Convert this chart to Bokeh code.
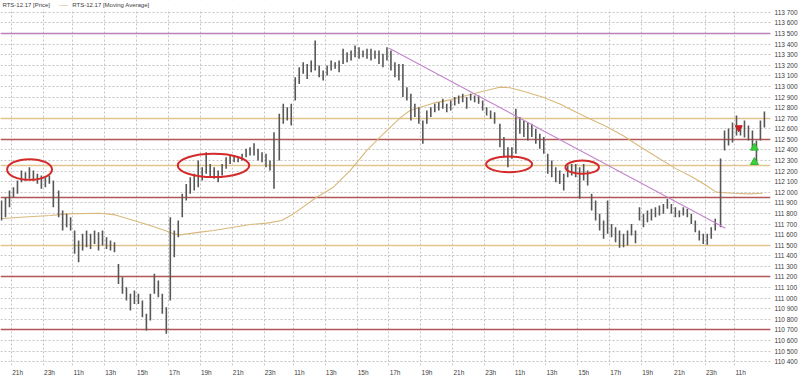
from bokeh.plotting import figure
from bokeh.models import Range1d, FixedTicker, Label, BoxAnnotation
from bokeh.embed import file_html
from bokeh.resources import INLINE

# ---------------- time structure (trading minutes, overnight gaps removed) ----------------
SESSION_OPEN = 10 * 60      # 10:00
SESSION_LEN = 830           # 10:00 - 23:50
EVENING_REF = 21 * 60       # x = 0 at 21:00 of the first (evening) session
EVENING_LEN = 170           # 21:00 - 23:50
BAR_MIN = 15                # 15-minute bars


def t_of(k, hh, mm=0):
    """trading-minute coordinate of clock time hh:mm in session k (0 = first evening)."""
    if k == 0:
        return hh * 60 + mm - EVENING_REF
    return EVENING_LEN + (k - 1) * SESSION_LEN + hh * 60 + mm - SESSION_OPEN


# ---------------- price bars (high / low of each 15-min bar) ----------------
s0_start = (20, 15)
s0_hi = [111922, 111953, 112016, 112048, 112111, 112205, 112190, 112237, 112205, 112174,
         112158, 112142, 112158, 112111]
s0_lo = [111733, 111764, 111859, 111953, 111985, 112095, 112111, 112127, 112111, 112080,
         112032, 112048, 112080, 111859]

s1_hi = [112016, 111827, 111796, 111764, 111638, 111544, 111607, 111638, 111607, 111638,
         111623, 111638, 111575, 111544, 111528, 111323, 111197, 111103, 111040, 111071,
         111040, 110977, 110851, 111040, 111229, 111166, 111040, 110914, 111764, 111638,
         111733, 111985, 112079, 112142, 112174, 112300, 112237, 112379, 112268, 112237,
         112205, 112268, 112331, 112347, 112347, 112331, 112363, 112410, 112426, 112464,
         112410, 112379, 112363, 112300, 112568]
s1_lo = [111764, 111638, 111670, 111638, 111418, 111339, 111450, 111481, 111465, 111512,
         111450, 111497, 111465, 111450, 111434, 111134, 111040, 110977, 110882, 110945,
         110945, 110819, 110693, 110788, 111040, 111008, 110851, 110662, 110977, 111386,
         111575, 111764, 111922, 111985, 112016, 112048, 112111, 112174, 112142, 112127,
         112095, 112158, 112221, 112268, 112284, 112284, 112300, 112331, 112347, 112347,
         112300, 112284, 112237, 112205, 112032]

s2_hi = [112742, 112836, 112804, 112836, 113087, 113182, 113229, 113213, 113245, 113434,
         113198, 113150, 113198, 113245, 113229, 113245, 113355, 113324, 113339, 113387,
         113371, 113339, 113355, 113355, 113339, 113339, 113308, 113371, 113339, 113229,
         113213, 113213, 112993, 112930, 112836, 112804, 112678, 112773, 112804, 112836,
         112851, 112883, 112836, 112867, 112899, 112914, 112930, 112899, 112930, 112914,
         112914, 112867, 112804, 112773, 112757]
s2_lo = [112300, 112647, 112678, 112631, 112867, 113024, 113119, 113071, 113135, 113150,
         113087, 113056, 113103, 113150, 113166, 113135, 113213, 113229, 113245, 113276,
         113261, 113276, 113261, 113245, 113261, 113213, 113182, 113245, 113150, 113087,
         113056, 112899, 112867, 112678, 112710, 112647, 112458, 112647, 112710, 112757,
         112773, 112788, 112757, 112773, 112820, 112836, 112851, 112788, 112867, 112851,
         112836, 112773, 112725, 112694, 112647]

s3_hi = [112647, 112521, 112426, 112426, 112788, 112710, 112678, 112662, 112647, 112599,
         112552, 112521, 112363, 112300, 112237, 112205, 112174, 112253, 112268, 112268,
         112237, 112268, 112205, 111985, 111922, 111796, 111733, 111922, 111701, 111670,
         111638, 111607, 111638, 111701, 111638, 111859, 111796, 111827, 111843, 111859,
         111875, 111890, 111938, 111890, 111859, 111827, 111859, 111843, 111796, 111733,
         111638, 111607, 111607, 111670, 111749]
s3_lo = [112426, 112332, 112237, 112316, 112363, 112552, 112521, 112489, 112521, 112458,
         112410, 112363, 112174, 112142, 112095, 112079, 112016, 112142, 112158, 112142,
         111938, 112111, 112064, 111827, 111733, 111638, 111560, 111607, 111575, 111528,
         111475, 111481, 111497, 111591, 111519, 111733, 111670, 111717, 111733, 111764,
         111780, 111796, 111843, 111796, 111764, 111764, 111780, 111764, 111701, 111623,
         111544, 111512, 111505, 111560, 111638]

s4_hi = [112320, 112583, 112602, 112659, 112725, 112631, 112678, 112631, 112583, 112489,
         112678, 112763]
s4_lo = [111670, 112394, 112442, 112470, 112536, 112536, 112517, 112489, 112394, 112281,
         112489, 112612]

# ---------------- moving average ----------------
ma_t = [-41, 34, 147, 209, 334, 391, 460, 522, 585, 610, 635, 710, 760, 835, 898, 961,
        1017, 1061, 1148, 1211, 1274, 1336, 1399, 1462, 1499, 1537, 1587, 1649, 1712, 1774,
        1837, 1875, 1925, 2000, 2063, 2125, 2175, 2238, 2300, 2364, 2438, 2501, 2563, 2614,
        2651, 2714, 2776, 2826]
ma_v = [111749, 111764, 111780, 111796, 111802, 111786, 111733, 111686, 111632, 111607,
        111597, 111623, 111638, 111670, 111695, 111708, 111733, 111796, 111953, 112048,
        112205, 112394, 112552, 112703, 112772, 112804, 112842, 112873, 112914, 112955,
        112993, 112987, 112955, 112898, 112835, 112757, 112694, 112621, 112536, 112432,
        112316, 112221, 112142, 112064, 112001, 111991, 111985, 111991]

# ---------------- drawn levels / annotations ----------------
levels = [113500, 112700, 112500, 112255, 111950, 111500, 111200, 110700]
level_kind = ["violet", "tan", "red", "tan", "red", "tan", "red", "red"]

trend_t = [1421, 2686]
trend_v = [113361, 111660]

ell_t = [68, 760, 1872, 2147]
ell_v = [112215, 112253, 112264, 112237]
ell_w = [169, 269, 173, 126]
ell_h = [196, 220, 148, 126]

sell_t = [2736]
sell_v = [112609]
buy_t = [2795, 2795]
buy_v = [112420, 112284]

# ---------------- axis ticks / legend ----------------
tick_hours = [[21, 23], [11, 13, 15, 17, 19, 21, 23], [11, 13, 15, 17, 19, 21, 23],
              [11, 13, 15, 17, 19, 21, 23], [11]]
price_ticks = list(range(110400, 113701, 100))
series_names = ["RTS-12.17 [Price]", "RTS-12.17 [Moving Average]"]

# ---------------- styles ----------------
COL = {"violet": "#bd80bd", "tan": "#e2c48e", "red": "#b25656"}
FONT = "Liberation Sans"
TXT = "#3c3c3c"
MA_COLOR = "#d9b97c"
PLOT_TOP = 113727     # top of the price area; the strip above it holds the legend
Y_TOP = 113812

bar_x, bar_hi, bar_lo = [], [], []
for k, (start, H, L) in enumerate([(s0_start, s0_hi, s0_lo), ((10, 0), s1_hi, s1_lo),
                                   ((10, 0), s2_hi, s2_lo), ((10, 0), s3_hi, s3_lo),
                                   ((10, 0), s4_hi, s4_lo)]):
    t0 = t_of(k, *start)
    for i, (h, l) in enumerate(zip(H, L)):
        bar_x.append(t0 + BAR_MIN * i + BAR_MIN / 2)
        bar_hi.append(h)
        bar_lo.append(l)

grid_pos = [t_of(k, h) for k, hs in enumerate(tick_hours) for h in hs]
grid_lab = [f"{h}h" for hs in tick_hours for h in hs]
LABEL_SHIFT = 23
lab_pos = [g + LABEL_SHIFT for g in grid_pos]

p = figure(width=800, height=378, output_backend="svg", toolbar_location=None,
           x_range=Range1d(-41.3, 2855.4), y_range=Range1d(110363, Y_TOP),
           y_axis_location="right", min_border_left=0, min_border_right=29,
           min_border_top=0, min_border_bottom=13)
p.outline_line_color = None
p.background_fill_color = "white"
p.border_fill_color = "white"

# axes
p.xaxis.ticker = FixedTicker(ticks=lab_pos)
p.xaxis.major_label_overrides = {pos: lab for pos, lab in zip(lab_pos, grid_lab)}
p.yaxis.ticker = FixedTicker(ticks=price_ticks)
p.yaxis.major_label_overrides = {v: f"{v // 1000} {v % 1000:03d}" for v in price_ticks}
for ax in (p.xaxis[0], p.yaxis[0]):
    ax.axis_line_color = None
    ax.major_tick_line_color = None
    ax.minor_tick_line_color = None
    ax.major_tick_out = 0
    ax.major_tick_in = 0
    ax.minor_tick_out = 0
    ax.minor_tick_in = 0
    ax.major_label_text_font = FONT
    ax.major_label_text_font_size = "6.5px"
    ax.major_label_text_color = TXT
p.xaxis.major_label_standoff = 3
p.yaxis.major_label_standoff = 4

# grid
p.xgrid.ticker = FixedTicker(ticks=grid_pos)
for g in (p.xgrid[0], p.ygrid[0]):
    g.grid_line_color = "#c4c4c4"
    g.grid_line_dash = "2 2"
    g.grid_line_width = 1

# level lines
p.hspan(y=levels, line_color=[COL[k] for k in level_kind], line_width=1.6)

# moving average
p.line(ma_t, ma_v, line_color=MA_COLOR, line_width=1.1)

# price bars
p.segment(x0=bar_x, y0=bar_lo, x1=bar_x, y1=bar_hi, line_color="#575757", line_width=1.6)

# trend line
p.line(trend_t, trend_v, line_color="#c384cc", line_width=1.1)

# ellipses
p.ellipse(x=ell_t, y=ell_v, width=ell_w, height=ell_h, fill_color=None,
          line_color="#d42a2a", line_width=2)

# signals
p.scatter(sell_t, sell_v, marker="inverted_triangle", size=7, fill_color="#c62020",
          line_color="#c62020")
p.scatter(buy_t, buy_v, marker="triangle", size=8, fill_color="#39d13c", line_color="#2fb832")

# legend strip above the price area (blank out grid there, then write the entries)
p.add_layout(BoxAnnotation(bottom=PLOT_TOP, fill_color="white", fill_alpha=1,
                           line_color=None))
p.add_layout(Label(x=-34, y=113802, text=series_names[0], text_font=FONT,
                   text_font_size="6px", text_color=TXT, text_baseline="top"))
p.add_layout(Label(x=180, y=113774, text="—", text_font=FONT,
                   text_font_size="9px", text_color=MA_COLOR, text_baseline="middle"))
p.add_layout(Label(x=229, y=113802, text=series_names[1], text_font=FONT,
                   text_font_size="6px", text_color=TXT, text_baseline="top"))

open("out.html", "w").write(file_html(p, INLINE))
